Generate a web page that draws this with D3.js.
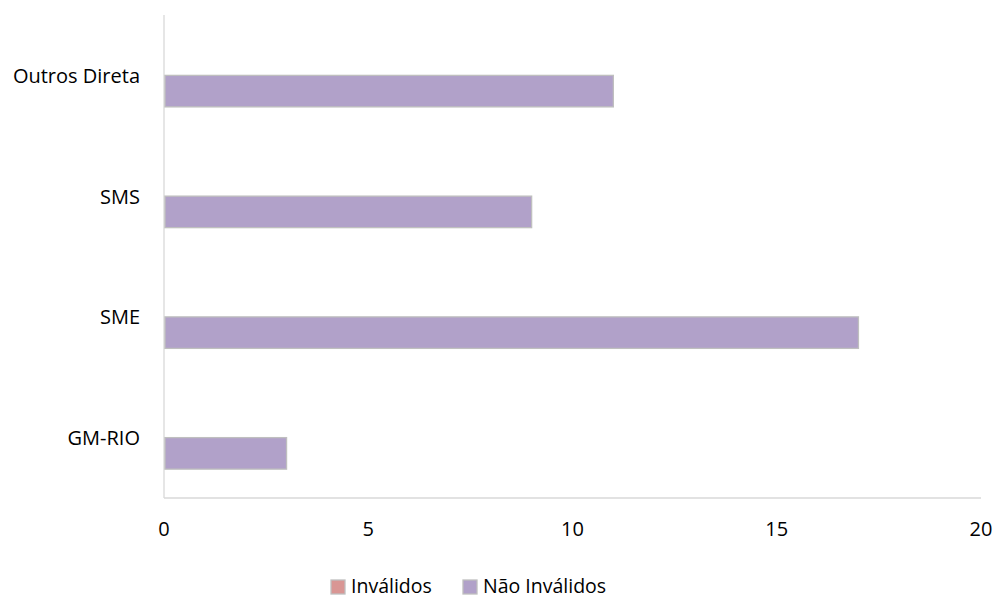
<!DOCTYPE html>
<html><head><meta charset="utf-8">
<script src="https://cdn.jsdelivr.net/npm/d3@7"></script>
<style>body{margin:0;background:#fff}svg{display:block}text{font-family:"Open Sans",sans-serif;fill:#000}</style>
</head><body>
<script>
const categories = ["Outros Direta", "SMS", "SME", "GM-RIO"];
const seriesNames = ["Inválidos", "Não Inválidos"];
const invalidos = [0, 0, 0, 0];
const naoInvalidos = [11, 9, 17, 3];
const xTicks = [0, 5, 10, 15, 20];
const colors = ["#d99694", "#b1a1c9"];

const W = 995, H = 598;
const m = {l:164, r:14, t:15, b:100};
const FS = 20;
const svg = d3.select("body").append("svg").attr("width", W).attr("height", H);

const x = d3.scaleLinear().domain([0, 20]).range([m.l, W - m.r]);
const y = d3.scaleBand().domain(categories).range([m.t, H - m.b]).paddingInner(0).paddingOuter(0);
const groupW = y.bandwidth() * 0.522;
const sub = d3.scaleBand().domain(seriesNames).range([0, groupW]);

const data = categories.map((c, i) => ({cat: c, vals: [invalidos[i], naoInvalidos[i]]}));

svg.append("line").attr("x1", x(0)).attr("x2", x(0)).attr("y1", m.t).attr("y2", H - m.b)
  .attr("stroke", "#d9d9d9").attr("stroke-width", 1.3);
svg.append("line").attr("x1", x(0)).attr("x2", x(20)).attr("y1", H - m.b).attr("y2", H - m.b)
  .attr("stroke", "#d9d9d9").attr("stroke-width", 1.3);

const g = svg.append("g");
data.forEach(d => {
  const gy = y(d.cat) + (y.bandwidth() - groupW) / 2;
  d.vals.forEach((v, si) => {
    if (v <= 0) return;
    g.append("rect")
      .attr("x", x(0) + 1)
      .attr("y", gy + sub(seriesNames[si]))
      .attr("width", x(v) - x(0) - 1)
      .attr("height", sub.bandwidth())
      .attr("fill", colors[si])
      .attr("stroke", "#bfbfbf").attr("stroke-width", 1.3);
  });
});

svg.append("g").selectAll("text").data(categories).join("text")
  .attr("x", 140).attr("y", d => y(d) + y.bandwidth() / 2)
  .attr("text-anchor", "end").attr("dominant-baseline", "central")
  .attr("font-size", FS).text(d => d);

svg.append("g").selectAll("text").data(xTicks).join("text")
  .attr("x", d => x(d)).attr("y", 528)
  .attr("text-anchor", "middle").attr("dominant-baseline", "central")
  .attr("font-size", FS).text(d => d);

const leg = [{n: seriesNames[0], c: colors[0], x: 331}, {n: seriesNames[1], c: colors[1], x: 463}];
leg.forEach(l => {
  svg.append("rect").attr("x", l.x).attr("y", 580).attr("width", 14).attr("height", 14)
    .attr("fill", l.c).attr("stroke", "#bfbfbf").attr("stroke-width", 1.3);
  svg.append("text").attr("x", l.x + 20).attr("y", 585.5).attr("dominant-baseline", "central")
    .attr("font-size", 19.5).text(l.n);
});
</script>
</body></html>
